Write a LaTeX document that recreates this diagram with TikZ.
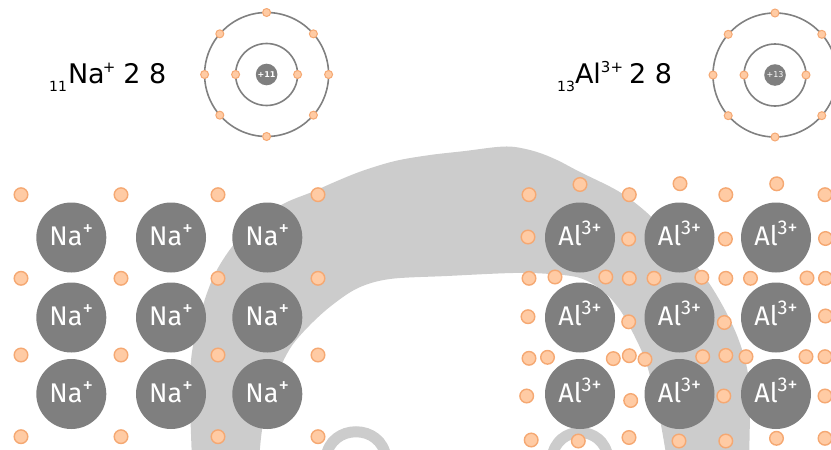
\documentclass[tikz,border=0pt]{standalone}
\usepackage{fontspec}
\setmainfont{DejaVu Sans}
\newfontfamily\ionfont{Fira Sans}
\definecolor{iongray}{HTML}{7F7F7F}
\definecolor{bandgray}{HTML}{CCCCCC}
\definecolor{efill}{HTML}{FFCBA4}
\definecolor{eline}{HTML}{F5A872}
\definecolor{shellgray}{HTML}{808080}
% sub- and superscripts of the formula headers
\newcommand\hsub[1]{\lower8pt\hbox{\fontsize{14}{14}\selectfont #1}}
\newcommand\hsup[1]{\raise11pt\hbox{\fontsize{15}{15}\selectfont #1}}
% superscripts of the ion labels
\newcommand\nasup{\raise10pt\hbox{\fontsize{21}{21}\selectfont +}}
\newcommand\alsup{\raise11pt\hbox{\fontsize{20}{20}\selectfont 3+}}
\begin{document}
\begin{tikzpicture}[x=1pt,y=-1pt,
  ion/.style={circle, fill=iongray, minimum size=70pt, inner sep=0pt,
    text=white, text height=16pt, text depth=0pt,
    font=\ionfont\fontsize{27}{27}\selectfont},
  elec/.style={circle, fill=efill, draw=eline, line width=1.4pt,
    minimum size=13.6pt, inner sep=0pt},
  selec/.style={circle, fill=efill, draw=eline, line width=1pt,
    minimum size=8pt, inner sep=0pt},
  shell/.style={draw=shellgray, line width=1.6pt},
  nucleus/.style={circle, fill=iongray, minimum size=21.6pt, inner sep=0pt,
    text=white, font=\fontsize{8}{8}\selectfont},
  hdr/.style={anchor=base west, inner sep=0pt, font=\fontsize{27}{27}\selectfont},
  bandline/.style={draw=bandgray, line width=11pt}]
\useasboundingbox (0,0) rectangle (831,450);
\clip (0,0) rectangle (831,450);

% curved band in the background
\fill[bandgray]
  plot[smooth, tension=0.55] coordinates {
    (192,460) (190,400) (191,360) (197,327) (207,293) (218,268) (235,243)
    (258,220) (285,203) (312,192) (337,181) (362,171) (395,161) (430,155)
    (465,151) (497,147) (515,147) (537,152) (557,160) (580,172) (618,191)
    (645,211) (668,234) (690,258) (709,283) (725,310) (738,338) (747,368)
    (750,400) (749,460)}
  -- plot[smooth, tension=0.55] coordinates {
    (667,460) (661,425) (654,393) (646,362) (634,335) (620,310) (603,291)
    (580,278) (550,274) (513,273) (447,276) (390,279) (358,288) (331,306)
    (309,326) (291,347) (278,373) (268,405) (262,430) (259,460)}
  -- cycle;
\draw[bandline] (326,458) .. controls (330,423) and (382,423) .. (386,458);
\draw[bandline] (552,458) .. controls (556,424) and (604,424) .. (608,458);

% sodium atom
\node[nucleus, font=\fontsize{8}{8}\selectfont\bfseries] (nanuc) at (266.6,74.5) {+11};
\draw[shell] (nanuc) circle[radius=31pt];
\draw[shell] (nanuc) circle[radius=62pt];
\foreach \a [count=\k] in {0,180}
  \node[selec] (nain\k) at ([shift={(\a:31pt)}]nanuc) {};
\foreach \a [count=\k] in {0,41,90,139,180,221,270,319}
  \node[selec] (naout\k) at ([shift={(\a:62pt)}]nanuc) {};
\node[hdr] (nahdr) at (49,83.3) {\hsub{11}\kern1pt Na\kern-2pt\hsup{+}\hspace{8pt}2 8};

% aluminium atom
\node[nucleus] (alnuc) at (775,75) {+13};
\draw[shell] (alnuc) circle[radius=31pt];
\draw[shell] (alnuc) circle[radius=62pt];
\foreach \a [count=\k] in {0,180}
  \node[selec] (alin\k) at ([shift={(\a:31pt)}]alnuc) {};
\foreach \a [count=\k] in {0,41,90,139,180,221,270,319}
  \node[selec] (alout\k) at ([shift={(\a:62pt)}]alnuc) {};
\node[hdr] (alhdr) at (557,83.3) {\hsub{13}Al\hsup{3+}\hspace{6pt}2 8};

% sodium lattice: free electrons and ions
\foreach \x [count=\i] in {21,121,218,318}
  \foreach \y [count=\j] in {194.7,278.3,355,436.7}
    \node[elec] (nae\i\j) at (\x,\y) {};
\foreach \x [count=\i] in {71.3,171,267.3}
  \foreach \y [count=\j] in {237.5,317.5,394}
    \node[ion] (na\i\j) at (\x,\y) {Na\nasup};

% aluminium lattice: free electrons and ions
\foreach \x/\y [count=\k] in {
    529/194.7, 580/184.5, 629.3/194.7, 680/183.7, 725.8/194.7, 776.7/183.8, 825/194.7,
    528/237, 628.7/239, 725.4/239, 825.5/238.5,
    529/278.3, 555/277, 605.8/277, 629.3/278.3, 654/278.3, 701.8/277.3,
    725.8/278.3, 750.5/278.3, 807/278, 825.5/278.3,
    528/316.7, 628.7/321.8, 724.3/322.5, 825.5/316,
    529/358.3, 547.5/357.3, 613.3/358.6, 629.3/355.7, 645/359.3, 702.7/356.7,
    725.8/355.4, 746/356.7, 806/356.7, 825/356.7,
    526.7/396, 630.7/400.5, 723.8/396, 825/396,
    531.2/440, 578.3/441, 629/437.5, 679/441, 725.8/441, 776.5/438.3, 825/438.3}
  \node[elec] (ale\k) at (\x,\y) {};
\foreach \x [count=\i] in {580,679.5,776}
  \foreach \y [count=\j] in {237.5,317.5,394}
    \node[ion] (al\i\j) at (\x,\y) {Al\alsup};
\end{tikzpicture}
\end{document}
